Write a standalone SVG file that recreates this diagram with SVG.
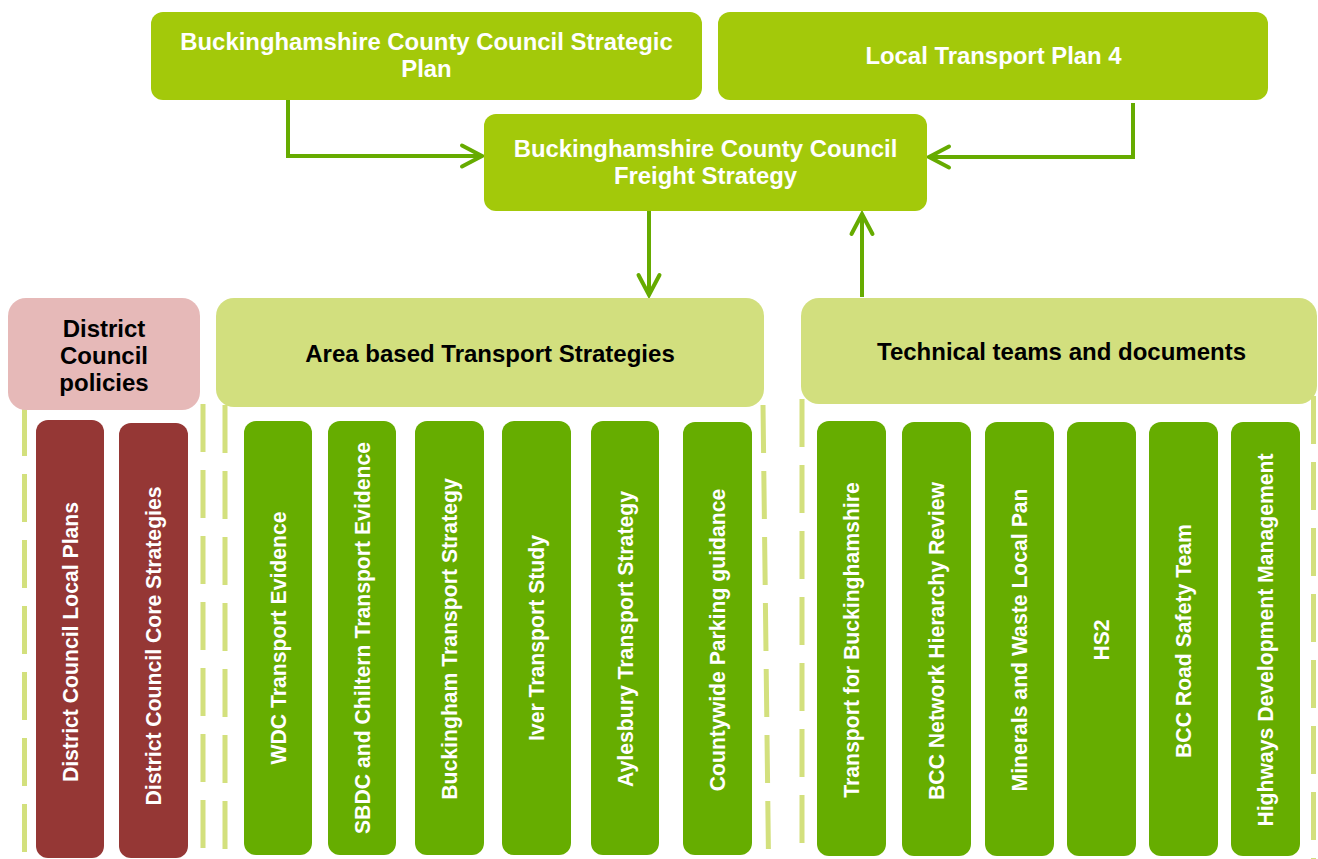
<svg xmlns="http://www.w3.org/2000/svg" width="1318" height="859" viewBox="0 0 1318 859">
<defs>
<style>
.top{fill:#a3c90a}
.hdr{fill:#d2df7e}
.pink{fill:#e6b9b8}
.red{fill:#953735}
.col{fill:#66ad00}
.wt{font-family:"Liberation Sans",Arial,sans-serif;font-weight:bold;font-size:23.9px;fill:#fff;text-anchor:middle}
.bt{font-family:"Liberation Sans",Arial,sans-serif;font-weight:bold;font-size:24px;fill:#000;text-anchor:middle}
.vt{font-family:"Liberation Sans",Arial,sans-serif;font-weight:bold;font-size:21.2px;fill:#fff;text-anchor:middle}
.conn{fill:none;stroke:#66ab00;stroke-width:4;stroke-linejoin:miter}
.dash{fill:none;stroke:#d3e07d;stroke-width:5;stroke-dasharray:48 18}
</style>
<marker id="arr" markerUnits="userSpaceOnUse" markerWidth="30" markerHeight="30" viewBox="-24 -15 30 30" refX="0" refY="0" orient="auto">
<path d="M-20,-10.5 L0,0 L-20,10.5" fill="none" stroke="#66ab00" stroke-width="4" stroke-linecap="round"/>
</marker>
</defs>

<g id="dashed-lines">
<path class="dash" d="M24.5,408 V859"/>
<path class="dash" d="M203,404 V859"/>
<path class="dash" d="M225,405 V859"/>
<path class="dash" d="M763,405 L768.5,859"/>
<path class="dash" d="M802,399 V859"/>
<path class="dash" d="M1313.5,396 V859"/>
</g>

<g id="connectors">
<path class="conn" d="M288,100 V156 H482" marker-end="url(#arr)"/>
<path class="conn" d="M1133,103 V157 H929" marker-end="url(#arr)"/>
<path class="conn" d="M649,211 V295" marker-end="url(#arr)"/>
<path class="conn" d="M862,297 V214" marker-end="url(#arr)"/>
</g>

<g id="strategic-plan">
<rect class="top" x="151" y="12" width="551" height="88" rx="12"/>
<text class="wt" x="426.5" y="50">Buckinghamshire County Council Strategic</text>
<text class="wt" x="426.5" y="77">Plan</text>
</g>
<g id="ltp4">
<rect class="top" x="718" y="12" width="550" height="88" rx="12"/>
<text class="wt" x="993.5" y="64">Local Transport Plan 4</text>
</g>
<g id="freight-strategy">
<rect class="top" x="484" y="114" width="443" height="97" rx="12"/>
<text class="wt" x="705.5" y="157">Buckinghamshire County Council</text>
<text class="wt" x="705.5" y="184">Freight Strategy</text>
</g>

<g id="district-policies">
<rect class="pink" x="8" y="298" width="192" height="112" rx="18"/>
<text class="bt" x="104" y="337">District</text>
<text class="bt" x="104" y="364">Council</text>
<text class="bt" x="104" y="391">policies</text>
</g>
<g id="area-strategies">
<rect class="hdr" x="216" y="298" width="548" height="109" rx="18"/>
<text class="bt" x="490" y="362">Area based Transport Strategies</text>
</g>
<g id="technical-teams">
<rect class="hdr" x="801" y="298" width="516" height="106" rx="18"/>
<text class="bt" x="1061.5" y="360">Technical teams and documents</text>
</g>

<g id="dc-local-plans">
<rect class="red" x="36" y="420" width="68" height="438" rx="12"/>
<text class="vt" transform="translate(70,642) rotate(-90)" dy="0.36em">District Council Local Plans</text>
</g>
<g id="dc-core-strategies">
<rect class="red" x="119" y="423" width="69" height="435" rx="12"/>
<text class="vt" transform="translate(153.5,646) rotate(-90)" dy="0.36em">District Council Core Strategies</text>
</g>

<g id="wdc">
<rect class="col" x="244" y="421" width="68" height="434" rx="12"/>
<text class="vt" transform="translate(278,638) rotate(-90)" dy="0.36em">WDC Transport Evidence</text>
</g>
<g id="sbdc">
<rect class="col" x="328" y="421" width="68" height="434" rx="12"/>
<text class="vt" transform="translate(362,638) rotate(-90)" dy="0.36em">SBDC and Chiltern Transport Evidence</text>
</g>
<g id="buckingham">
<rect class="col" x="415" y="421" width="69" height="434" rx="12"/>
<text class="vt" transform="translate(449.5,639) rotate(-90)" dy="0.36em">Buckingham Transport Strategy</text>
</g>
<g id="iver">
<rect class="col" x="502" y="421" width="69" height="434" rx="12"/>
<text class="vt" transform="translate(536.5,638) rotate(-90)" dy="0.36em">Iver Transport Study</text>
</g>
<g id="aylesbury">
<rect class="col" x="591" y="421" width="68" height="434" rx="12"/>
<text class="vt" transform="translate(625,639) rotate(-90)" dy="0.36em">Aylesbury Transport Strategy</text>
</g>
<g id="countywide">
<rect class="col" x="683" y="422" width="69" height="433" rx="12"/>
<text class="vt" transform="translate(717.5,640) rotate(-90)" dy="0.36em">Countywide Parking guidance</text>
</g>

<g id="tfb">
<rect class="col" x="817" y="421" width="69" height="435" rx="12"/>
<text class="vt" transform="translate(851.5,640) rotate(-90)" dy="0.36em">Transport for Buckinghamshire</text>
</g>
<g id="bcc-network">
<rect class="col" x="902" y="422" width="69" height="434" rx="12"/>
<text class="vt" transform="translate(936.5,641) rotate(-90)" dy="0.36em">BCC Network Hierarchy Review</text>
</g>
<g id="minerals">
<rect class="col" x="985" y="422" width="69" height="434" rx="12"/>
<text class="vt" transform="translate(1019.5,640) rotate(-90)" dy="0.36em">Minerals and Waste Local Pan</text>
</g>
<g id="hs2">
<rect class="col" x="1067" y="422" width="69" height="434" rx="12"/>
<text class="vt" transform="translate(1101.5,640) rotate(-90)" dy="0.36em">HS2</text>
</g>
<g id="road-safety">
<rect class="col" x="1149" y="422" width="69" height="434" rx="12"/>
<text class="vt" transform="translate(1183.5,641) rotate(-90)" dy="0.36em">BCC Road Safety Team</text>
</g>
<g id="highways-dm">
<rect class="col" x="1231" y="422" width="69" height="434" rx="12"/>
<text class="vt" transform="translate(1265.5,640) rotate(-90)" dy="0.36em">Highways Development Management</text>
</g>
</svg>
